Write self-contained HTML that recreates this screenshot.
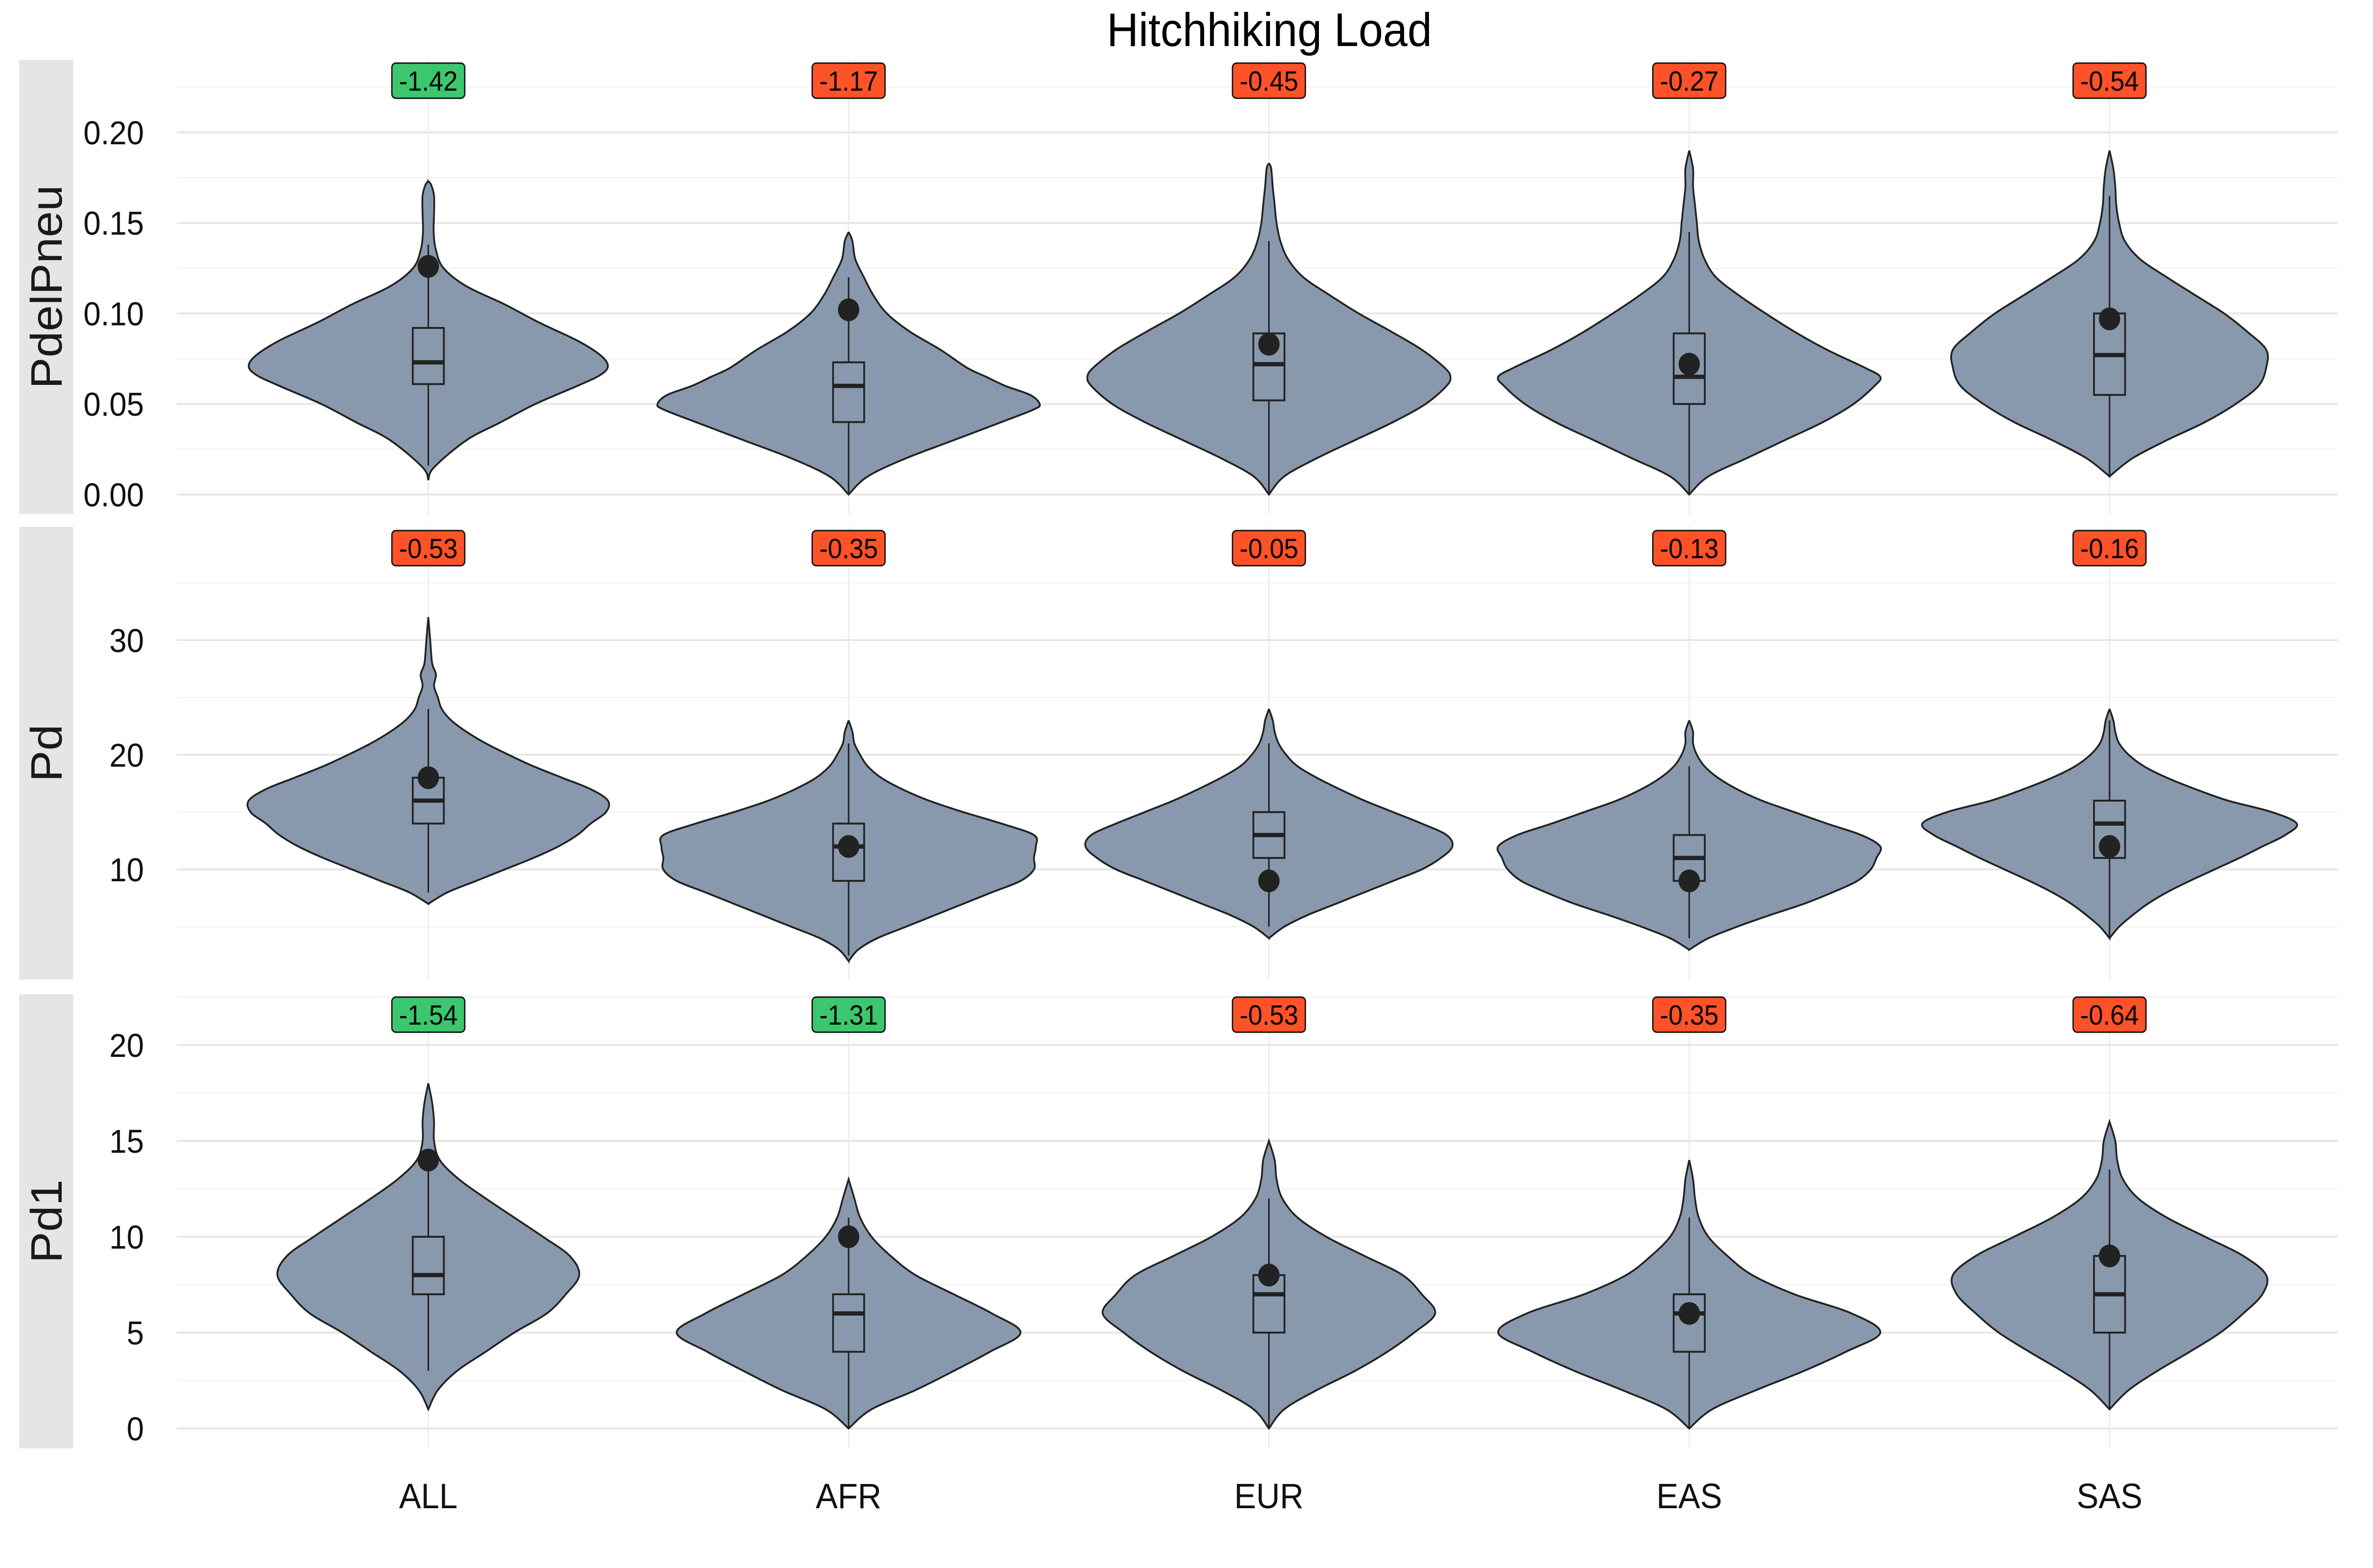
<!DOCTYPE html>
<html><head><meta charset="utf-8"><style>
html,body{margin:0;padding:0;background:#fff;overflow:hidden;width:100vw;height:100vh;}
svg{display:block;font-family:"Liberation Sans",Arial,sans-serif;width:100vw;height:100vh;}
</style></head><body>
<svg id="chart" viewBox="0 0 5341 3304" preserveAspectRatio="none" xmlns="http://www.w3.org/2000/svg">
<rect width="5341" height="3304" fill="#fff"/>
<text x="2857" y="97" font-size="99" text-anchor="middle" fill="#000">Hitchhiking Load</text>
</svg>
<script>
const categories = ["ALL","AFR","EUR","EAS","SAS"];
const panelNames = ["PdelPneu","Pd","Pd1"];
const p1Ticks = ["0.00","0.05","0.10","0.15","0.20"];
const p2Ticks = ["10","20","30"];
const p3Ticks = ["0","5","10","15","20"];
const p1Labels = ["-1.42","-1.17","-0.45","-0.27","-0.54"];
const p2Labels = ["-0.53","-0.35","-0.05","-0.13","-0.16"];
const p3Labels = ["-1.54","-1.31","-0.53","-0.35","-0.64"];
const p1Sig = [true,false,false,false,false];
const p2Sig = [false,false,false,false,false];
const p3Sig = [true,true,false,false,false];
// violin density profiles [value, relative density]
const p1Density = [
 [[0.008,0],[0.015,0.03],[0.03,0.2],[0.04,0.38],[0.05,0.56],[0.06,0.78],[0.066,0.9],[0.071,0.94],[0.077,0.9],[0.085,0.78],[0.095,0.58],[0.105,0.4],[0.115,0.2],[0.125,0.08],[0.135,0.04],[0.145,0.028],[0.155,0.03],[0.165,0.03],[0.171,0.015],[0.173,0]],
 [[0,0],[0.01,0.1],[0.02,0.3],[0.03,0.55],[0.04,0.8],[0.047,0.97],[0.05,1.0],[0.055,0.95],[0.06,0.82],[0.065,0.72],[0.07,0.62],[0.08,0.48],[0.09,0.32],[0.1,0.2],[0.11,0.13],[0.12,0.08],[0.13,0.035],[0.14,0.02],[0.145,0]],
 [[0,0],[0.01,0.08],[0.02,0.25],[0.03,0.45],[0.04,0.65],[0.05,0.82],[0.06,0.93],[0.065,0.95],[0.07,0.92],[0.08,0.8],[0.09,0.64],[0.1,0.47],[0.11,0.32],[0.12,0.18],[0.13,0.1],[0.14,0.06],[0.15,0.04],[0.16,0.03],[0.17,0.02],[0.18,0.012],[0.183,0]],
 [[0,0],[0.01,0.1],[0.02,0.3],[0.03,0.5],[0.04,0.7],[0.05,0.86],[0.06,0.97],[0.065,1.0],[0.07,0.92],[0.08,0.72],[0.09,0.55],[0.1,0.4],[0.11,0.26],[0.12,0.14],[0.13,0.08],[0.14,0.05],[0.15,0.04],[0.16,0.03],[0.17,0.02],[0.18,0.02],[0.19,0]],
 [[0.01,0],[0.02,0.12],[0.03,0.3],[0.04,0.5],[0.05,0.66],[0.06,0.78],[0.07,0.82],[0.08,0.82],[0.09,0.72],[0.1,0.6],[0.11,0.45],[0.12,0.3],[0.13,0.16],[0.14,0.08],[0.15,0.05],[0.16,0.035],[0.17,0.03],[0.18,0.02],[0.19,0]]
];
const p2Density = [
 [[7,0],[8,0.1],[9,0.25],[10,0.4],[11,0.55],[12,0.68],[13,0.78],[14,0.85],[15,0.93],[16,0.94],[17,0.85],[18,0.7],[19,0.55],[20,0.42],[21,0.3],[22,0.2],[23,0.12],[24,0.07],[25,0.05],[26,0.03],[27,0.04],[28,0.02],[30,0.01],[32,0]],
 [[2,0],[3,0.05],[4,0.15],[5,0.3],[6,0.45],[7,0.6],[8,0.75],[9,0.9],[10,0.97],[11,0.97],[12,0.98],[13,0.97],[14,0.8],[15,0.6],[16,0.42],[17,0.28],[18,0.17],[19,0.1],[20,0.06],[21,0.03],[22,0.02],[23,0]],
 [[4,0],[5,0.08],[6,0.2],[7,0.35],[8,0.5],[9,0.65],[10,0.8],[11,0.9],[12,0.96],[13,0.93],[14,0.8],[15,0.65],[16,0.5],[17,0.37],[18,0.25],[19,0.15],[20,0.09],[21,0.05],[22,0.03],[23,0.02],[24,0]],
 [[3,0],[4,0.1],[5,0.25],[6,0.42],[7,0.6],[8,0.75],[9,0.88],[10,0.95],[11,0.98],[12,1.0],[13,0.9],[14,0.72],[15,0.55],[16,0.38],[17,0.25],[18,0.15],[19,0.08],[20,0.04],[21,0.02],[22,0.02],[23,0]],
 [[4,0],[5,0.05],[6,0.12],[7,0.2],[8,0.3],[9,0.42],[10,0.55],[11,0.68],[12,0.8],[13,0.92],[14,0.98],[15,0.85],[16,0.62],[17,0.45],[18,0.3],[19,0.18],[20,0.1],[21,0.05],[22,0.03],[23,0.02],[24,0]]
];
const p3Density = [
 [[1,0],[2,0.05],[3,0.15],[4,0.3],[5,0.45],[6,0.62],[7,0.72],[8,0.79],[9,0.74],[10,0.6],[11,0.45],[12,0.3],[13,0.16],[14,0.06],[15,0.03],[16,0.03],[17,0.02],[18,0]],
 [[0,0],[1,0.12],[2,0.35],[3,0.55],[4,0.74],[5,0.9],[6,0.75],[7,0.55],[8,0.35],[9,0.22],[10,0.12],[11,0.06],[12,0.03],[13,0]],
 [[0,0],[1,0.08],[2,0.25],[3,0.45],[4,0.62],[5,0.76],[6,0.87],[7,0.8],[8,0.7],[9,0.5],[10,0.3],[11,0.15],[12,0.07],[13,0.04],[14,0.03],[15,0]],
 [[0,0],[1,0.12],[2,0.35],[3,0.6],[4,0.82],[5,1.0],[6,0.85],[7,0.55],[8,0.33],[9,0.2],[10,0.1],[11,0.05],[12,0.03],[13,0.02],[14,0]],
 [[1,0],[2,0.1],[3,0.25],[4,0.42],[5,0.58],[6,0.7],[7,0.8],[8,0.82],[9,0.7],[10,0.5],[11,0.3],[12,0.15],[13,0.07],[14,0.04],[15,0.03],[16,0]]
];
// box stats: [whiskerLow, q1, median, q3, whiskerHigh]
const p1Box = [[0.016,0.061,0.073,0.092,0.138],[0,0.04,0.06,0.073,0.12],[0,0.052,0.072,0.089,0.14],[0,0.05,0.065,0.089,0.145],[0.01,0.055,0.077,0.1,0.165]];
const p2Box = [[8,14,16,18,24],[2.5,9,12,14,21],[5,11,13,15,21],[4,9,11,13,19],[4,11,14,16,23]];
const p3Box = [[3,7,8,10,14],[0,4,6,7,11],[0,5,7,8,12],[0,4,6,7,11],[1,5,7,9,13.5]];
const p1Obs = [0.126,0.102,0.083,0.072,0.097];
const p2Obs = [18,12,9,9,12];
const p3Obs = [14,10,8,6,9];

const NS="http://www.w3.org/2000/svg";
const svg=document.getElementById('chart');
function mk(tag,attrs,parent){const e=document.createElementNS(NS,tag);for(const k in attrs)e.setAttribute(k,attrs[k]);(parent||svg).appendChild(e);return e;}
const xLeft=398,xRight=5262;
function xScale(i){return 964+i*946;}
const W=430;
const panels=[
 {top:126,bot:1083,y:v=>1042-v*3815,ticks:p1Ticks,major:[0,0.05,0.1,0.15,0.2],minor:[0.025,0.075,0.125,0.175,0.225],lab:p1Labels,sig:p1Sig,dens:p1Density,box:p1Box,obs:p1Obs,labY:170},
 {top:1110,bot:2064,y:v=>1832-(v-10)*24.16,ticks:p2Ticks,major:[10,20,30],minor:[5,15,25,35],lab:p2Labels,sig:p2Sig,dens:p2Density,box:p2Box,obs:p2Obs,labY:1155},
 {top:2095,bot:3052,y:v=>3010-v*40.4,ticks:p3Ticks,major:[0,5,10,15,20],minor:[2.5,7.5,12.5,17.5,22.5],lab:p3Labels,sig:p3Sig,dens:p3Density,box:p3Box,obs:p3Obs,labY:2138}
];
function smoothPath(pts){
 let d="M"+pts[0][0]+","+pts[0][1];
 for(let i=0;i<pts.length-1;i++){
  const p0=pts[Math.max(0,i-1)],p1=pts[i],p2=pts[i+1],p3=pts[Math.min(pts.length-1,i+2)];
  const c1=[p1[0]+(p2[0]-p0[0])/6,p1[1]+(p2[1]-p0[1])/6];
  const c2=[p2[0]-(p3[0]-p1[0])/6,p2[1]-(p3[1]-p1[1])/6];
  d+=" C"+c1[0].toFixed(1)+","+c1[1].toFixed(1)+" "+c2[0].toFixed(1)+","+c2[1].toFixed(1)+" "+p2[0].toFixed(1)+","+p2[1].toFixed(1);
 }
 return d;
}
panels.forEach((P,pi)=>{
 const g=mk('g',{});
 
 
 P.minor.forEach(v=>{const y=P.y(v);if(y>P.top&&y<P.bot){const l=mk('line',{x1:xLeft,x2:xRight,y1:y,y2:y,stroke:'#f4f4f4','stroke-width':3},g);
  
  }});
 P.major.forEach(v=>{const y=P.y(v);const l=mk('line',{x1:xLeft,x2:xRight,y1:y,y2:y,stroke:'#e6e6e6','stroke-width':4},g);
  
  });
 categories.forEach((c,i)=>{const l=mk('line',{x1:xScale(i),x2:xScale(i),y1:P.top,y2:P.bot,stroke:'#ececec','stroke-width':3},g);
  
  });
 P.ticks.forEach((t,k)=>{const tx=mk('text',{x:324,y:P.y(P.major[k])+25,'font-size':70,'text-anchor':'end',fill:'#111'},g);tx.textContent=t;
  
  });
 const strip=mk('rect',{x:43,y:P.top,width:122,height:P.bot-P.top,fill:'#e5e5e5'},g);
 
 
 const cy=(P.top+P.bot)/2;
 const st=mk('text',{x:0,y:0,'font-size':99,'text-anchor':'middle',fill:'#1a1a1a',transform:`translate(139,${cy}) rotate(-90)`},g);
 st.textContent=panelNames[pi];
 
 
 categories.forEach((c,i)=>{
  const cx=xScale(i);
  const dens=P.dens[i];
  const right=dens.map(d=>[cx+d[1]*W,P.y(d[0])]);
  const left=dens.slice().reverse().map(d=>[cx-d[1]*W,P.y(d[0])]);
  const pathD=smoothPath(right)+" L"+smoothPath(left).slice(1)+" Z";
  const vp=mk('path',{d:pathD,fill:'#8999ad',stroke:'#222','stroke-width':4},g);
  
  
  const b=P.box[i];
  const wl=mk('line',{x1:cx,x2:cx,y1:P.y(b[0]),y2:P.y(b[4]),stroke:'#222','stroke-width':3.5},g);
  
  
  const br=mk('rect',{x:cx-35,y:P.y(b[3]),width:70,height:P.y(b[1])-P.y(b[3]),fill:'#8999ad',stroke:'#222','stroke-width':4},g);
  
  
  const md=mk('line',{x1:cx-35,x2:cx+35,y1:P.y(b[2]),y2:P.y(b[2]),stroke:'#222','stroke-width':9},g);
  
  
  const pt=mk('circle',{cx:cx,cy:P.y(P.obs[i]),r:24,fill:'#222'},g);
  
  
  const lr=mk('rect',{x:cx-82,y:P.labY-37,width:164,height:74,rx:9,fill:P.sig[i]?'#3cc76f':'#ff5229',stroke:'#111','stroke-width':3},g);
  
  
  const lt=mk('text',{x:cx,y:P.labY+21,'font-size':58,'text-anchor':'middle',fill:'#000'},g);
  lt.textContent=P.lab[i];
  
  
 });
});
categories.forEach((c,i)=>{
 const t=mk('text',{x:xScale(i),y:3178,'font-size':74,'text-anchor':'middle',fill:'#111'});
 t.textContent=c;
 
 
});
</script>
</body></html>
